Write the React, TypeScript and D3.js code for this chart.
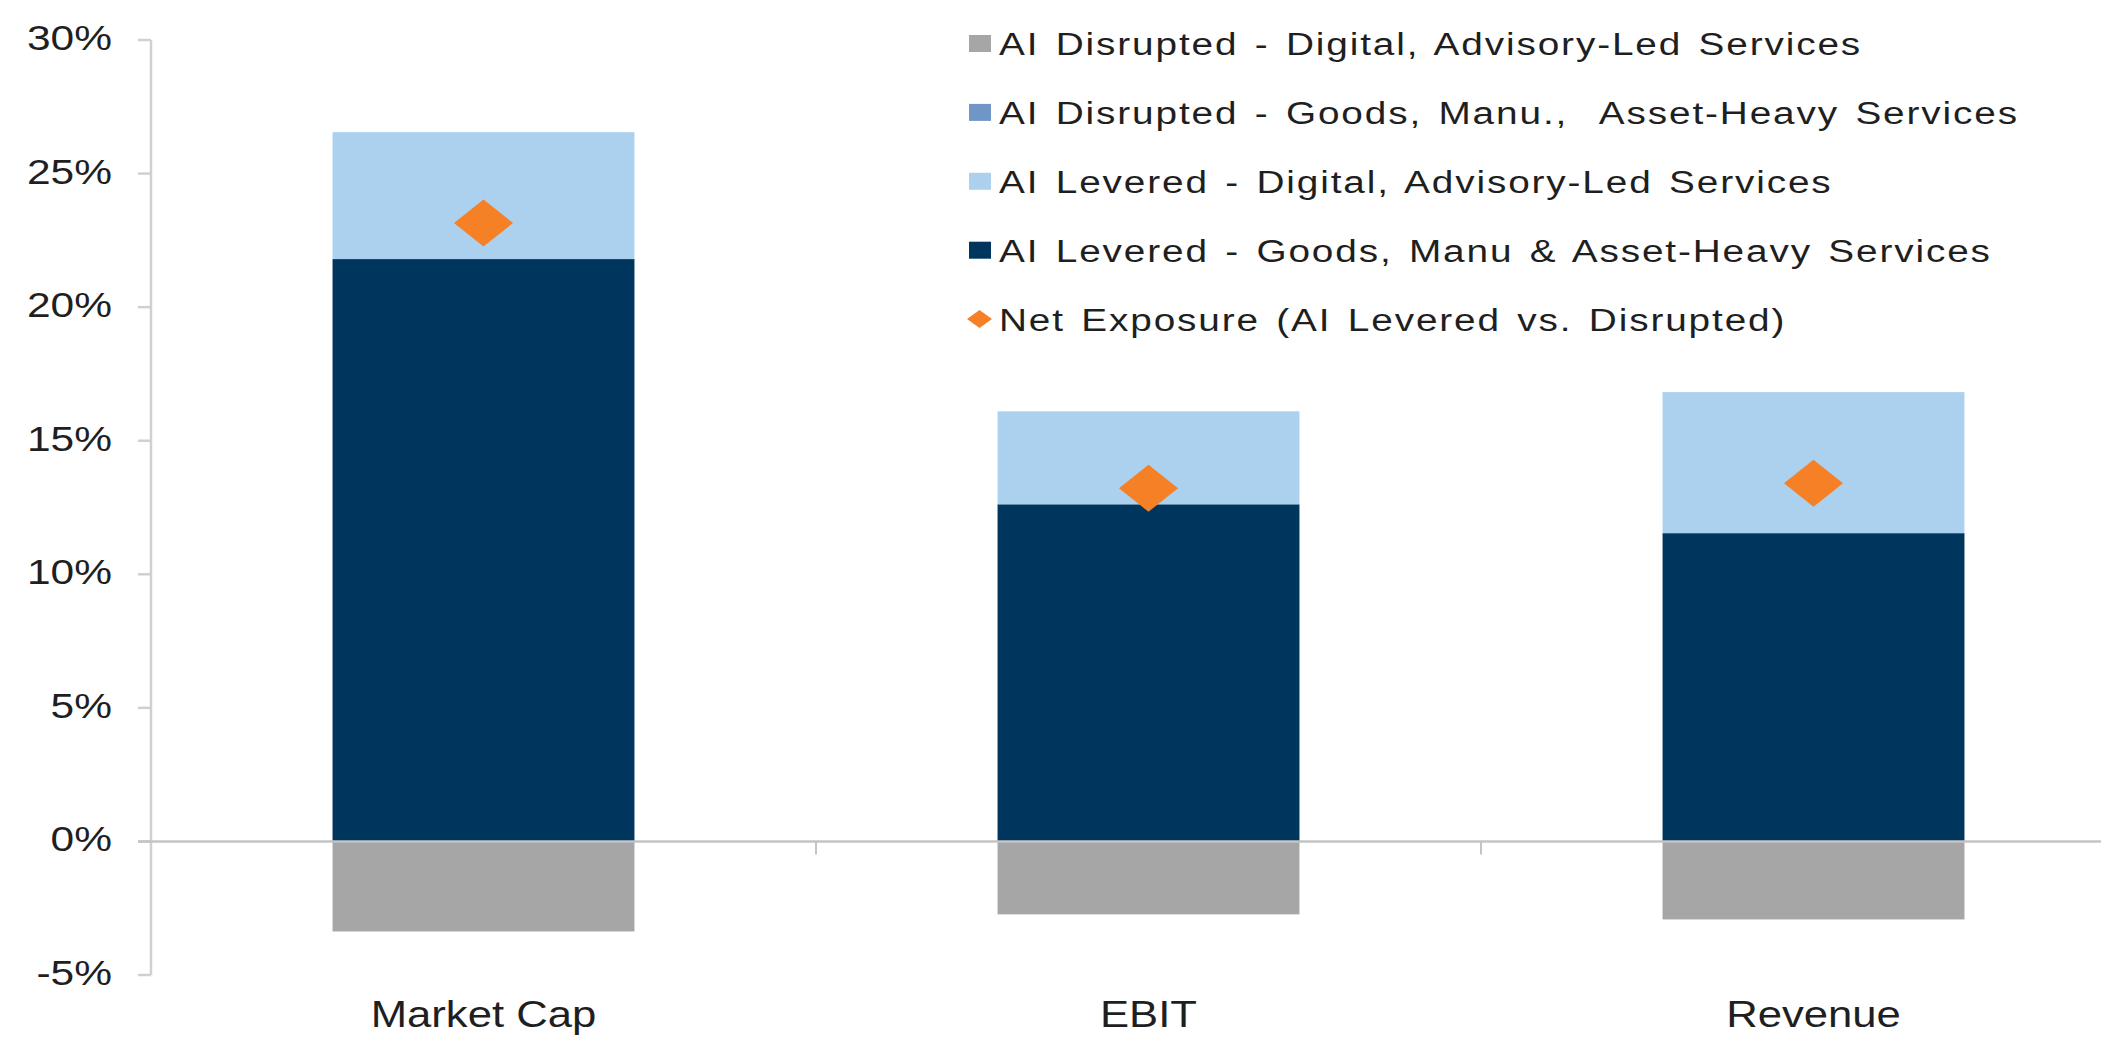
import React, { useEffect } from "react";
import * as d3 from "d3";

const categories = ["Market Cap", "EBIT", "Revenue"];
const disruptedDigital = [-3.32, -2.73, -2.92];
const disruptedGoods = [-0.05, 0, 0];
const leveredDigital = [4.75, 3.48, 5.28];
const leveredGoods = [21.8, 12.62, 11.54];
const netExposure = [23.15, 13.22, 13.41];
const yTicks = [-5, 0, 5, 10, 15, 20, 25, 30];

const legendLabels = [
  "AI Disrupted - Digital, Advisory-Led Services",
  "AI Disrupted - Goods, Manu.,  Asset-Heavy Services",
  "AI Levered - Digital, Advisory-Led Services",
  "AI Levered - Goods, Manu & Asset-Heavy Services",
  "Net Exposure (AI Levered vs. Disrupted)",
];

const COLORS = {
  disDigital: "#a6a6a6",
  disGoods: "#7096c8",
  levDigital: "#acd1ef",
  levGoods: "#00365e",
  net: "#f58025",
};

const W = 2101;
const H = 1052;
const FONT = "'Liberation Sans', Arial, sans-serif";
const SX = 1.18;
const LSX = 1.25;

export default function App() {
  useEffect(() => {
    document.body.style.margin = "0";
  }, []);

  const y = d3.scaleLinear().domain([-5, 30]).range([975, 40]);
  const x = d3
    .scaleBand<string>()
    .domain(categories)
    .range([151, 151 + 3 * 665])
    .paddingInner(0.546)
    .paddingOuter(0.273);
  const xb = d3.scaleBand<string>().domain(categories).range([151, 151 + 3 * 665]).padding(0);

  const rows = categories.map((c, i) => ({
    cat: c,
    disGoods: disruptedGoods[i],
    disDigital: disruptedDigital[i],
    levGoods: leveredGoods[i],
    levDigital: leveredDigital[i],
  }));
  const keys = ["disGoods", "disDigital", "levGoods", "levDigital"] as const;
  const stack = d3
    .stack<any>()
    .keys(keys as any)
    .offset(d3.stackOffsetDiverging);
  const series = stack(rows);

  const legendColors = [COLORS.disDigital, COLORS.disGoods, COLORS.levDigital, COLORS.levGoods, COLORS.net];
  const legendY0 = 43.5;
  const legendStep = 68.9;

  const diamond = (cx: number, cy: number, hw: number, hh: number) =>
    `M${cx},${cy - hh}L${cx + hw},${cy}L${cx},${cy + hh}L${cx - hw},${cy}Z`;

  const zeroY = y(0);

  return (
    <div style={{ position: "absolute", left: 0, top: 0 }}>
      <svg width={W} height={H} style={{ display: "block", background: "#fff" }} fontFamily={FONT}>
        {/* bars */}
        {series.map((s) => (
          <g key={s.key} fill={(COLORS as any)[s.key]}>
            {s.map((d, i) => {
              const y0 = y(d[0]);
              const y1 = y(d[1]);
              const top = Math.min(y0, y1);
              const h = Math.abs(y1 - y0);
              if (h <= 0) return null;
              return (
                <rect
                  key={i}
                  x={x(categories[i])!}
                  y={top}
                  width={x.bandwidth()}
                  height={Math.max(h, 1.5)}
                />
              );
            })}
          </g>
        ))}

        {/* y axis */}
        <line x1={151} x2={151} y1={y(30)} y2={y(-5)} stroke="#d0d0d0" strokeWidth={2.5} />
        {yTicks.map((t) => (
          <g key={t}>
            <line x1={138} x2={151} y1={y(t)} y2={y(t)} stroke="#d0d0d0" strokeWidth={2.5} />
            <text
              transform={`translate(112,${y(t) + 10}) scale(${SX},1)`}
              textAnchor="end"
              fontSize={36}
              fill="#1f1f1f"
            >
              {`${t}%`}
            </text>
          </g>
        ))}

        {/* zero line / x axis */}
        <line x1={138} x2={W} y1={zeroY} y2={zeroY} stroke="#c4c4c4" strokeWidth={2.5} />
        {categories.slice(1).map((c) => (
          <line
            key={c}
            x1={xb(c)!}
            x2={xb(c)!}
            y1={zeroY}
            y2={zeroY + 13}
            stroke="#c4c4c4"
            strokeWidth={2}
          />
        ))}
        {categories.map((c) => (
          <text
            key={c}
            transform={`translate(${x(c)! + x.bandwidth() / 2},1027) scale(${SX},1)`}
            textAnchor="middle"
            fontSize={37}
            fill="#1f1f1f"
          >
            {c}
          </text>
        ))}

        {/* net exposure diamonds */}
        {netExposure.map((v, i) => (
          <path
            key={i}
            d={diamond(x(categories[i])! + x.bandwidth() / 2, y(v), 29.5, 23.5)}
            fill={COLORS.net}
          />
        ))}

        {/* legend */}
        {legendLabels.map((lab, i) => {
          const cy = legendY0 + i * legendStep;
          return (
            <g key={lab}>
              {i < 4 ? (
                <rect x={969} y={cy - 8.5} width={22} height={17} fill={legendColors[i]} />
              ) : (
                <path d={diamond(979.5, cy, 12.5, 9)} fill={legendColors[i]} />
              )}
              <text
                transform={`translate(999,${cy + 11.5}) scale(${LSX},1)`}
                fontSize={31}
                letterSpacing={1.5}
                wordSpacing={3}
                style={{ whiteSpace: "pre" }}
                fill="#1f1f1f"
              >
                {lab}
              </text>
            </g>
          );
        })}
      </svg>
    </div>
  );
}
